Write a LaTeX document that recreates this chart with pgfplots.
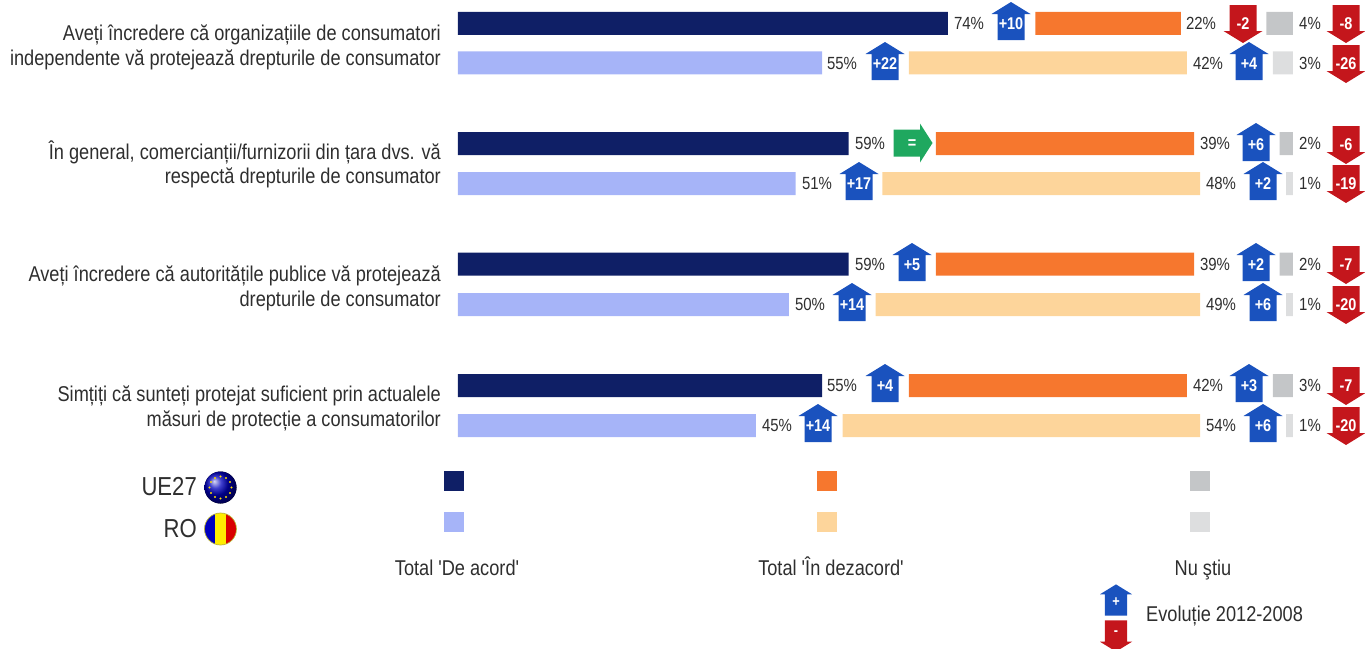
\documentclass[border=0pt]{standalone}
\usepackage{fontspec}
\setmainfont[FakeStretch=0.85,Ligatures=TeXOff]{Liberation Sans}
\usepackage{pgfplots}
\usepackage{pgfplotstable}
\usetikzlibrary{shadings}
\pgfplotsset{compat=1.18}
\definecolor{navy}{HTML}{0F1F66}
\definecolor{lblue}{HTML}{A6B4F8}
\definecolor{orng}{HTML}{F6772E}
\definecolor{peach}{HTML}{FDD59B}
\definecolor{gry}{HTML}{C4C6C8}
\definecolor{lgry}{HTML}{DDDEDF}
\definecolor{arblue}{HTML}{1A52BE}
\definecolor{arred}{HTML}{C4161C}
\definecolor{argreen}{HTML}{1FA85F}
\definecolor{txt}{HTML}{2E2E2E}
\tikzset{lab/.style={anchor=base east,text=txt,font=\fontsize{21.4}{21.4}\selectfont,inner sep=0pt},
 lg/.style={anchor=base,text=txt,font=\fontsize{21.4}{21.4}\selectfont,inner sep=0pt},
 big/.style={anchor=base east,text=txt,font=\fontsize{26}{26}\selectfont,inner sep=0pt}}
\pgfdeclareplotmark{uparr}{%
 \pgfpathmoveto{\pgfqpoint{0pt}{19pt}}\pgfpathlineto{\pgfqpoint{19.5pt}{7pt}}%
 \pgfpathlineto{\pgfqpoint{13.5pt}{7pt}}\pgfpathlineto{\pgfqpoint{13.5pt}{-19pt}}%
 \pgfpathlineto{\pgfqpoint{-13.5pt}{-19pt}}\pgfpathlineto{\pgfqpoint{-13.5pt}{7pt}}%
 \pgfpathlineto{\pgfqpoint{-19.5pt}{7pt}}\pgfpathclose\pgfusepathqfill}
\pgfdeclareplotmark{downarr}{%
 \pgfpathmoveto{\pgfqpoint{0pt}{-19pt}}\pgfpathlineto{\pgfqpoint{19.5pt}{-7pt}}%
 \pgfpathlineto{\pgfqpoint{13.5pt}{-7pt}}\pgfpathlineto{\pgfqpoint{13.5pt}{19pt}}%
 \pgfpathlineto{\pgfqpoint{-13.5pt}{19pt}}\pgfpathlineto{\pgfqpoint{-13.5pt}{-7pt}}%
 \pgfpathlineto{\pgfqpoint{-19.5pt}{-7pt}}\pgfpathclose\pgfusepathqfill}
\pgfdeclareplotmark{rightarr}{%
 \pgfpathmoveto{\pgfqpoint{19.5pt}{0pt}}\pgfpathlineto{\pgfqpoint{7pt}{19.5pt}}%
 \pgfpathlineto{\pgfqpoint{7pt}{13.5pt}}\pgfpathlineto{\pgfqpoint{-19.5pt}{13.5pt}}%
 \pgfpathlineto{\pgfqpoint{-19.5pt}{-13.5pt}}\pgfpathlineto{\pgfqpoint{7pt}{-13.5pt}}%
 \pgfpathlineto{\pgfqpoint{7pt}{-19.5pt}}\pgfpathclose\pgfusepathqfill}
\pgfdeclareplotmark{sq}{%
 \pgfpathrectangle{\pgfqpoint{-10pt}{-10pt}}{\pgfqpoint{20pt}{20pt}}\pgfusepathqfill}
% y = bar centre (px from top); ua/ra agree, g1 gap, ud/rd disagree, g2 gap, uk/rk don't know
\pgfplotstableread{
y ua ra g1 ud rd g2 uk rk
23.5 74 0 13.2 22 0 12.9 4 0
63 0 55 13.1 0 42 13.0 0 3
143.5 59 0 13.2 39 0 12.9 2 0
183.5 0 51 13.1 0 48 13.0 0 1
264 59 0 13.2 39 0 12.9 2 0
304.5 0 50 13.1 0 49 13.0 0 1
385.5 55 0 13.1 42 0 13.0 3 0
425.5 0 45 13.1 0 54 13.0 0 1
}\bars
\pgfplotstableread{
x y v
969 23 74
1201 23 22
1310 23 4
842 63 55
1208 63 42
1310 63 3
870 143 59
1215 143 39
1310 143 2
817 183 51
1221 183 48
1310 183 1
870 264 59
1215 264 39
1310 264 2
810 304 50
1221 304 49
1310 304 1
842 385 55
1208 385 42
1310 385 3
777 425 45
1221 425 54
1310 425 1
}\pct
\pgfplotstableread{
x y v
1011 21 +10
885 61 +22
1249 61 +4
1256 142 +6
859 181 +17
1263 181 +2
912 262 +5
1256 262 +2
852 302 +14
1263 302 +6
885 383 +4
1249 383 +3
818 423 +14
1263 423 +6
}\ups
\pgfplotstableread{
x y v
1243 24 -2
1346 24 -8
1346 64 -26
1346 145 -6
1346 184 -19
1346 265 -7
1346 305 -20
1346 386 -7
1346 426 -20
}\downs
\pgfplotstableread{
x y v
913 143 =
}\same
\begin{document}
\begin{tikzpicture}
\useasboundingbox (0,0) rectangle (1365pt,648pt);
\begin{axis}[at={(0,0)},anchor=south west,scale only axis,width=1365pt,height=648pt,
  hide axis,xmin=-69.18,xmax=137.01,ymin=0,ymax=648,y dir=reverse,
  xbar stacked,bar width=23pt,clip=false]
 \addplot[fill=navy,draw=none] table[x=ua,y=y]{\bars};
 \addplot[fill=lblue,draw=none] table[x=ra,y=y]{\bars};
 \addplot[fill=none,draw=none] table[x=g1,y=y]{\bars};
 \addplot[fill=orng,draw=none] table[x=ud,y=y]{\bars};
 \addplot[fill=peach,draw=none] table[x=rd,y=y]{\bars};
 \addplot[fill=none,draw=none] table[x=g2,y=y]{\bars};
 \addplot[fill=gry,draw=none] table[x=uk,y=y]{\bars};
 \addplot[fill=lgry,draw=none] table[x=rk,y=y]{\bars};
\end{axis}
\begin{axis}[at={(0,0)},anchor=south west,scale only axis,width=1365pt,height=648pt,
  hide axis,xmin=0,xmax=1365,ymin=0,ymax=648,y dir=reverse,clip=false,
  point meta=explicit symbolic,
  arrowlab/.style={only marks,nodes near coords,
    nodes near coords style={anchor=center,text=white,font=\fontsize{17}{17}\selectfont\bfseries,inner sep=0pt}}]
 \addplot[only marks,mark=none,nodes near coords={\pgfplotspointmeta\%},
   nodes near coords style={anchor=center,text=txt,font=\fontsize{17.6}{17.6}\selectfont,inner sep=0pt}]
   table[x=x,y=y,meta=v]{\pct};
 \addplot[arrowlab,mark=uparr,mark options={fill=arblue,draw=none},
   nodes near coords style={yshift=-2.5pt}] table[x=x,y=y,meta=v]{\ups};
 \addplot[arrowlab,mark=downarr,mark options={fill=arred,draw=none},
   nodes near coords style={yshift=0pt}] table[x=x,y=y,meta=v]{\downs};
 \addplot[arrowlab,mark=rightarr,mark options={fill=argreen,draw=none},
   nodes near coords style={xshift=-1pt,yshift=-1.5pt}] table[x=x,y=y,meta=v]{\same};
 % legend squares
 \addplot[only marks,mark=sq,mark options={fill=navy,draw=none}] coordinates {(454,481)};
 \addplot[only marks,mark=sq,mark options={fill=lblue,draw=none}] coordinates {(454,522)};
 \addplot[only marks,mark=sq,mark options={fill=orng,draw=none}] coordinates {(827,481)};
 \addplot[only marks,mark=sq,mark options={fill=peach,draw=none}] coordinates {(827,522)};
 \addplot[only marks,mark=sq,mark options={fill=gry,draw=none}] coordinates {(1200,481)};
 \addplot[only marks,mark=sq,mark options={fill=lgry,draw=none}] coordinates {(1200,522)};
 % legend arrows
 \addplot[arrowlab,mark=uparr,mark options={fill=arblue,draw=none,xscale=.82,yscale=.82},
   nodes near coords style={yshift=-2pt,font=\fontsize{15}{15}\selectfont\bfseries}] coordinates {(1116,600) [+]};
 \addplot[arrowlab,mark=downarr,mark options={fill=arred,draw=none,xscale=.82,yscale=.82},
   nodes near coords style={yshift=3pt,font=\fontsize{15}{15}\selectfont\bfseries}] coordinates {(1116,636) [-]};
 % text
 \node[lab] at (axis cs:441,40.5) {Aveți încredere că organizațiile de consumatori};
 \node[lab] at (axis cs:441,65) {independente vă protejează drepturile de consumator};
 \node[lab] at (axis cs:441,159) {În general, comercianții/furnizorii din țara dvs. vă};
 \node[lab] at (axis cs:441,183.5) {respectă drepturile de consumator};
 \node[lab] at (axis cs:441,281) {Aveți încredere că autoritățile publice vă protejează};
 \node[lab] at (axis cs:441,306) {drepturile de consumator};
 \node[lab] at (axis cs:441,401) {Simțiți că sunteți protejat suficient prin actualele};
 \node[lab] at (axis cs:441,426) {măsuri de protecție a consumatorilor};
 \node[big] at (axis cs:197,495) {UE27};
 \node[big] at (axis cs:197,537) {RO};
 \node[lg] at (axis cs:457,575) {Total 'De acord'};
 \node[lg] at (axis cs:831,575) {Total 'În dezacord'};
 \node[lg] at (axis cs:1203,575) {Nu ştiu};
 \node[lab,anchor=base west] at (axis cs:1146,621) {Evoluție 2012-2008};
 % flags
 \fill[ball color=blue!75!black] (axis cs:220.5,487.5) circle[radius=16pt];
 \pgfplotsinvokeforeach{0,30,60,90,120,150,180,210,240,270,300,330}{
   \fill[yellow!80!orange] (axis cs:220.5,487.5) ++(#1:11pt) circle[radius=1.1pt];}
 \begin{scope}
 \clip (axis cs:220.5,529) circle[radius=16pt];
 \fill[blue!75!black] (axis cs:204,512) rectangle (axis cs:215,546);
 \fill[yellow!95!orange] (axis cs:215,512) rectangle (axis cs:226,546);
 \fill[red!85!black] (axis cs:226,512) rectangle (axis cs:237,546);
 \end{scope}
 \draw[yellow!70!black,line width=.7pt] (axis cs:220.5,529) circle[radius=16pt];
\end{axis}
\end{tikzpicture}
\end{document}
